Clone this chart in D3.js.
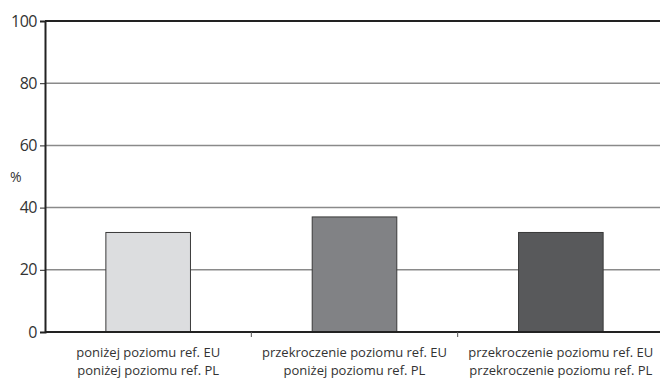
<!DOCTYPE html>
<html>
<head>
<meta charset="utf-8">
<script src="https://cdn.jsdelivr.net/npm/d3@7"></script>
<style>
  body { margin: 0; background: #fff; }
  text { font-family: "Open Sans", sans-serif; fill: #333; }
</style>
</head>
<body>
<div id="chart"></div>
<script>
// data
const categories = ["a", "b", "c"];
const labelLine1 = ["poniżej poziomu ref. EU", "przekroczenie poziomu ref. EU", "przekroczenie poziomu ref. EU"];
const labelLine2 = ["poniżej poziomu ref. PL", "poniżej poziomu ref. PL", "przekroczenie poziomu ref. PL"];
const values = [32, 37, 32];
const barColors = ["#dcdddf", "#818285", "#58595b"];
const yTicks = [0, 20, 40, 60, 80, 100];

const width = 660, height = 378;
const margin = {top: 21, right: -4, bottom: 46, left: 45};

const svg = d3.select("#chart").append("svg")
    .attr("width", width)
    .attr("height", height);

const x = d3.scaleBand()
    .domain(categories)
    .range([margin.left, width - margin.right])
    .padding(0);

const y = d3.scaleLinear()
    .domain([0, 100])
    .range([height - margin.bottom, margin.top]);

// gridlines
svg.selectAll(".grid")
    .data(yTicks.filter(d => d > 0 && d < 100))
    .enter().append("line")
    .attr("x1", margin.left)
    .attr("x2", width)
    .attr("y1", d => y(d))
    .attr("y2", d => y(d))
    .attr("stroke", "#8a8a8a")
    .attr("stroke-width", 1.5);

// top line
svg.append("line")
    .attr("x1", margin.left).attr("x2", width)
    .attr("y1", y(100)).attr("y2", y(100))
    .attr("stroke", "#222").attr("stroke-width", 2);

// bars
const barW = x.bandwidth() * 0.41;
svg.selectAll(".bar")
    .data(values)
    .enter().append("rect")
    .attr("x", (d, i) => x(categories[i]) + (x.bandwidth() - barW) / 2)
    .attr("y", d => y(d))
    .attr("width", barW)
    .attr("height", d => y(0) - y(d))
    .attr("fill", (d, i) => barColors[i])
    .attr("stroke", "#3a3a3a")
    .attr("stroke-width", 1);

// y axis
const yAxis = svg.append("g")
    .attr("transform", "translate(" + margin.left + ",0)")
    .call(d3.axisLeft(y).tickValues(yTicks).tickSize(5).tickPadding(3));
yAxis.select(".domain").attr("stroke", "#222").attr("stroke-width", 2);
yAxis.selectAll(".tick line").attr("stroke", "#222");
yAxis.selectAll("text").style("font-size", "16px").style("letter-spacing", "-0.5px").attr("fill", "#333");

// x axis baseline + ticks
svg.append("line")
    .attr("x1", margin.left).attr("x2", width)
    .attr("y1", y(0)).attr("y2", y(0))
    .attr("stroke", "#222").attr("stroke-width", 2);

svg.selectAll(".xtick")
    .data(categories.slice(1))
    .enter().append("line")
    .attr("x1", d => x(d)).attr("x2", d => x(d))
    .attr("y1", y(0)).attr("y2", y(0) + 5)
    .attr("stroke", "#555");

// category labels
const lab = svg.selectAll(".xlabel")
    .data(categories)
    .enter().append("text")
    .attr("text-anchor", "middle")
    .style("font-size", "13px");
lab.append("tspan")
    .attr("x", d => x(d) + x.bandwidth() / 2)
    .attr("y", 357)
    .text((d, i) => labelLine1[i]);
lab.append("tspan")
    .attr("x", d => x(d) + x.bandwidth() / 2)
    .attr("y", 375)
    .text((d, i) => labelLine2[i]);

// % label
svg.append("text")
    .attr("x", 10)
    .attr("y", 182)
    .style("font-size", "14px")
    .text("%");
</script>
</body>
</html>
